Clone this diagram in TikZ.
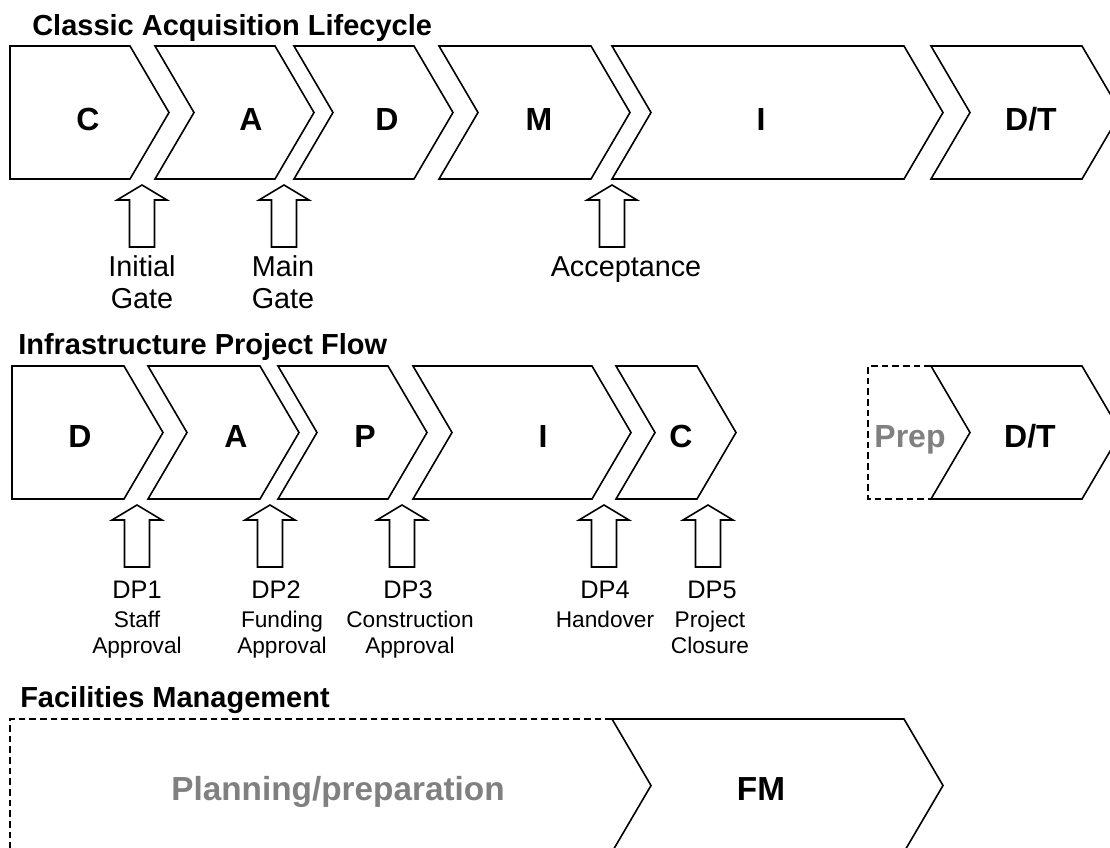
\documentclass[tikz,border=0pt]{standalone}
\usepackage{fontspec}
\setmainfont{Liberation Sans}
\definecolor{prepgray}{RGB}{128,128,128}

% phase chevrons: left x, right x, top y
\newcommand{\notched}[3]{\draw[chev] (#1,#3) -- (#2,#3) -- ++(39,66.5) -- ++(-39,66.5) -- (#1,#3+133) -- ++(39,-66.5) -- cycle;}
\newcommand{\flatcut}[3]{\draw[chev] (#1,#3) -- (#2,#3) -- ++(39,66.5) -- ++(-39,66.5) -- (#1,#3+133) -- cycle;}
% hollow block arrow, tip at a named coordinate
\newcommand{\gatearrow}[1]{\draw[gatearr] (#1) -- ++(25,15) -- ++(-12.5,0) -- ++(0,47) -- ++(-25,0) -- ++(0,-47) -- ++(-12.5,0) -- cycle;}

\begin{document}
\begin{tikzpicture}[
    x=0.75pt, y=-0.75pt,
    chev/.style={draw, line width=1.2pt, line join=miter},
    prepline/.style={draw, line width=1.8pt, dash pattern=on 5pt off 3pt},
    gatearr/.style={draw, line width=1.2pt},
    title/.style={anchor=base west, inner sep=0pt, font=\bfseries\fontsize{21.75}{26}\selectfont},
    phase/.style={anchor=base, inner sep=0pt, font=\bfseries\fontsize{24}{28}\selectfont},
    bigphase/.style={anchor=base, inner sep=0pt, font=\bfseries\fontsize{25}{30}\selectfont},
    gate/.style={anchor=base, inner sep=0pt, align=center, font=\fontsize{21.6}{24}\selectfont},
    dp/.style={anchor=base, inner sep=0pt, font=\fontsize{19}{22}\selectfont},
    dpnote/.style={anchor=base, inner sep=0pt, align=center, font=\fontsize{17}{19.5}\selectfont}
]
    \useasboundingbox (0,0) rectangle (1110,847);
    \clip (0,0) rectangle (1110,847);

    % Classic acquisition lifecycle
    \node[title] (t-acq) at (32,35) {Classic Acquisition Lifecycle};
    \flatcut{10}{130}{46}
    \notched{155}{275}{46}
    \notched{294}{414}{46}
    \notched{439}{591}{46}
    \notched{612}{904}{46}
    \notched{931}{1082}{46}
    \node[phase] (acq-c) at (88,130) {C};
    \node[phase] (acq-a) at (251,130) {A};
    \node[phase] (acq-d) at (387,130) {D};
    \node[phase] (acq-m) at (539,130) {M};
    \node[phase] (acq-i) at (761,130) {I};
    \node[phase] (acq-dt) at (1031,130) {D/T};

    \coordinate (initgate) at (142,185);
    \coordinate (maingate) at (284,185);
    \coordinate (accept) at (612,185);
    \gatearrow{initgate}
    \gatearrow{maingate}
    \gatearrow{accept}
    % base of a two-line label is its last line
    \node[gate] (initgate-lbl) at (142,308) {Initial\\Gate};
    \node[gate] (maingate-lbl) at (283,308) {Main\\Gate};
    \node[gate] (accept-lbl) at (626,276) {Acceptance};

    % Infrastructure project flow
    \node[title] (t-inf) at (18,354) {Infrastructure Project Flow};
    \flatcut{12}{124}{366}
    \notched{148}{260}{366}
    \notched{278}{388}{366}
    \notched{413}{592}{366}
    \notched{616}{697}{366}
    \notched{931}{1082}{366}
    \draw[prepline] (931,366) -- (868,366) -- (868,499) -- (931,499);
    \node[phase] (inf-d) at (80,447) {D};
    \node[phase] (inf-a) at (236,447) {A};
    \node[phase] (inf-p) at (365,447) {P};
    \node[phase] (inf-i) at (543,447) {I};
    \node[phase] (inf-c) at (681,447) {C};
    \node[phase, text=prepgray] (inf-prep) at (910,447) {Prep};
    \node[phase] (inf-dt) at (1030,447) {D/T};

    \coordinate (dp1) at (137,505);
    \coordinate (dp2) at (270,505);
    \coordinate (dp3) at (402,505);
    \coordinate (dp4) at (604,505);
    \coordinate (dp5) at (708,505);
    \gatearrow{dp1}
    \gatearrow{dp2}
    \gatearrow{dp3}
    \gatearrow{dp4}
    \gatearrow{dp5}
    \node[dp] (dp1-lbl) at (137,598) {DP1};
    \node[dp] (dp2-lbl) at (276,598) {DP2};
    \node[dp] (dp3-lbl) at (408,598) {DP3};
    \node[dp] (dp4-lbl) at (605,598) {DP4};
    \node[dp] (dp5-lbl) at (712,598) {DP5};
    \node[dpnote] (dp1-note) at (137,653) {Staff\\Approval};
    \node[dpnote] (dp2-note) at (282,653) {Funding\\Approval};
    \node[dpnote] (dp3-note) at (410,653) {Construction\\Approval};
    \node[dpnote] (dp4-note) at (605,627) {Handover};
    \node[dpnote] (dp5-note) at (710,653) {Project\\Closure};

    % Facilities management
    \node[title] (t-fm) at (20,707) {Facilities Management};
    \draw[prepline] (612,719) -- (10,719) -- (10,860);
    \notched{612}{904}{719}
    \node[bigphase, text=prepgray] (fm-plan) at (338,800) {Planning/preparation};
    \node[bigphase] (fm-fm) at (761,800) {FM};
\end{tikzpicture}
\end{document}
